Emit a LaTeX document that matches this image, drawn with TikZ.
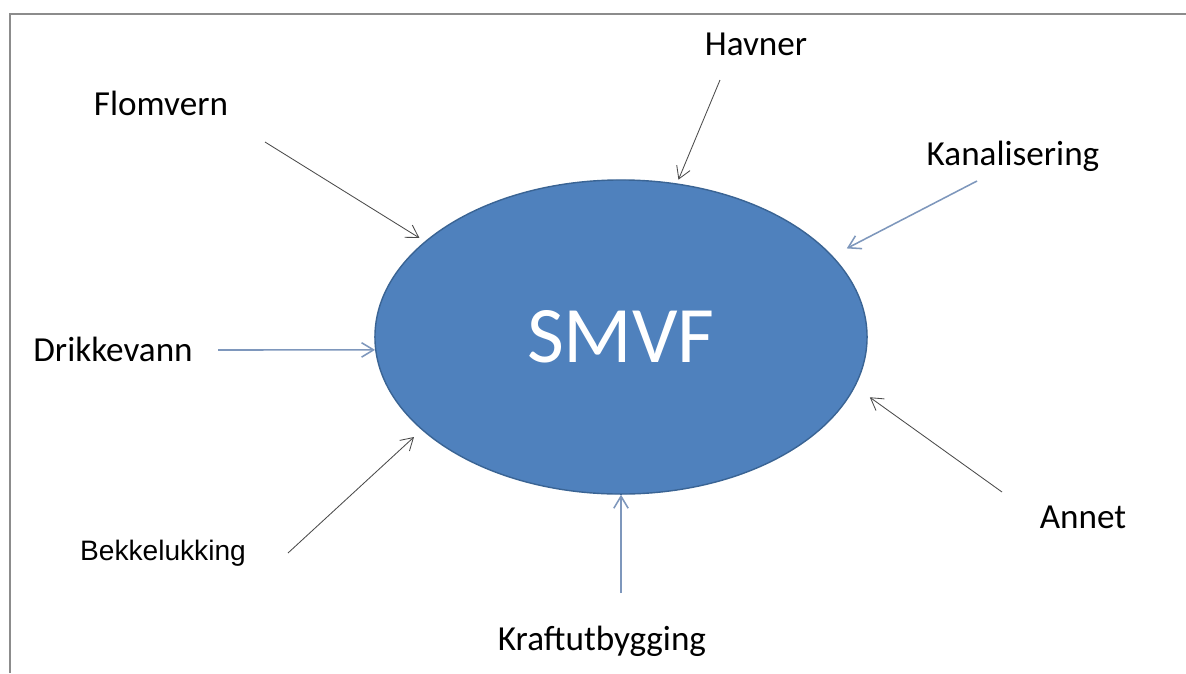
\documentclass[tikz,border=0pt]{standalone}
\usepackage{fontspec}
\setmainfont{Carlito}
\newfontfamily\arialfont{Liberation Sans}
\usetikzlibrary{shapes.geometric,arrows.meta}

\definecolor{smvfblue}{HTML}{4F81BD}
\definecolor{smvfedge}{HTML}{3A6494}
\definecolor{arrowgray}{HTML}{4A4A4A}
\definecolor{arrowblue}{HTML}{7E97BC}
\definecolor{framegray}{HTML}{8C8C8C}

\begin{document}
\begin{tikzpicture}[x=0.025cm,y=-0.025cm,
    lbl/.style={font=\fontsize{25}{30}\selectfont,anchor=base},
    feed/.style={draw=arrowgray,line width=0.6pt,-{Straight Barb[length=3mm,width=3.6mm]}},
    feedblue/.style={feed,draw=arrowblue,line width=1.1pt}]
      \useasboundingbox (0,0) rectangle (1186,673);
      \draw[framegray,line width=2pt] (10,673) -- (10,14) -- (1186,14);
      % centre
      \node[ellipse,fill=smvfblue,draw=smvfedge,line width=1pt,inner sep=0pt,
        minimum width=12.3cm,minimum height=7.85cm,text=white,
        font=\fontsize{57}{60}\selectfont] (smvf) at (621,337) {SMVF};
      % labels
      \node[lbl] (havner) at (756,55) {Havner};
      \node[lbl] (flomvern) at (161,115) {Flomvern};
      \node[lbl] (kanal) at (1013,165) {Kanalisering};
      \node[lbl] (drikke) at (113,361) {Drikkevann};
      \node[lbl,font=\arialfont\fontsize{20}{24}\selectfont] (bekke) at (163,560) {Bekkelukking};
      \node[lbl] (annet) at (1083,528) {Annet};
      \node[lbl] (kraft) at (602,650) {Kraftutbygging};
      % arrow feet
      \coordinate (havnerfoot) at (720,80);
      \coordinate (flomfoot) at (265,142);
      \coordinate (kanalfoot) at (977,181);
      \coordinate (drikkefoot) at (218,350);
      \coordinate (bekkefoot) at (288,553);
      \coordinate (annetfoot) at (1002,492);
      \coordinate (kraftfoot) at (621,593);
      \draw[feed,shorten >=0.1cm] (havnerfoot) -- (smvf.70);
      \draw[feed,shorten >=0.16cm] (flomfoot) -- (smvf.154.6);
      \draw[feedblue,shorten >=0.4cm] (kanalfoot) -- (smvf.21.3);
      \draw[feedblue] (drikkefoot) -- (smvf.183);
      \draw[feed,shorten >=0.26cm] (bekkefoot) -- (smvf.205.1);
      \draw[feed,shorten >=0.45cm] (annetfoot) -- (smvf.-12);
      \draw[feedblue] (kraftfoot) -- (smvf.south);
    \end{tikzpicture}
\end{document}
